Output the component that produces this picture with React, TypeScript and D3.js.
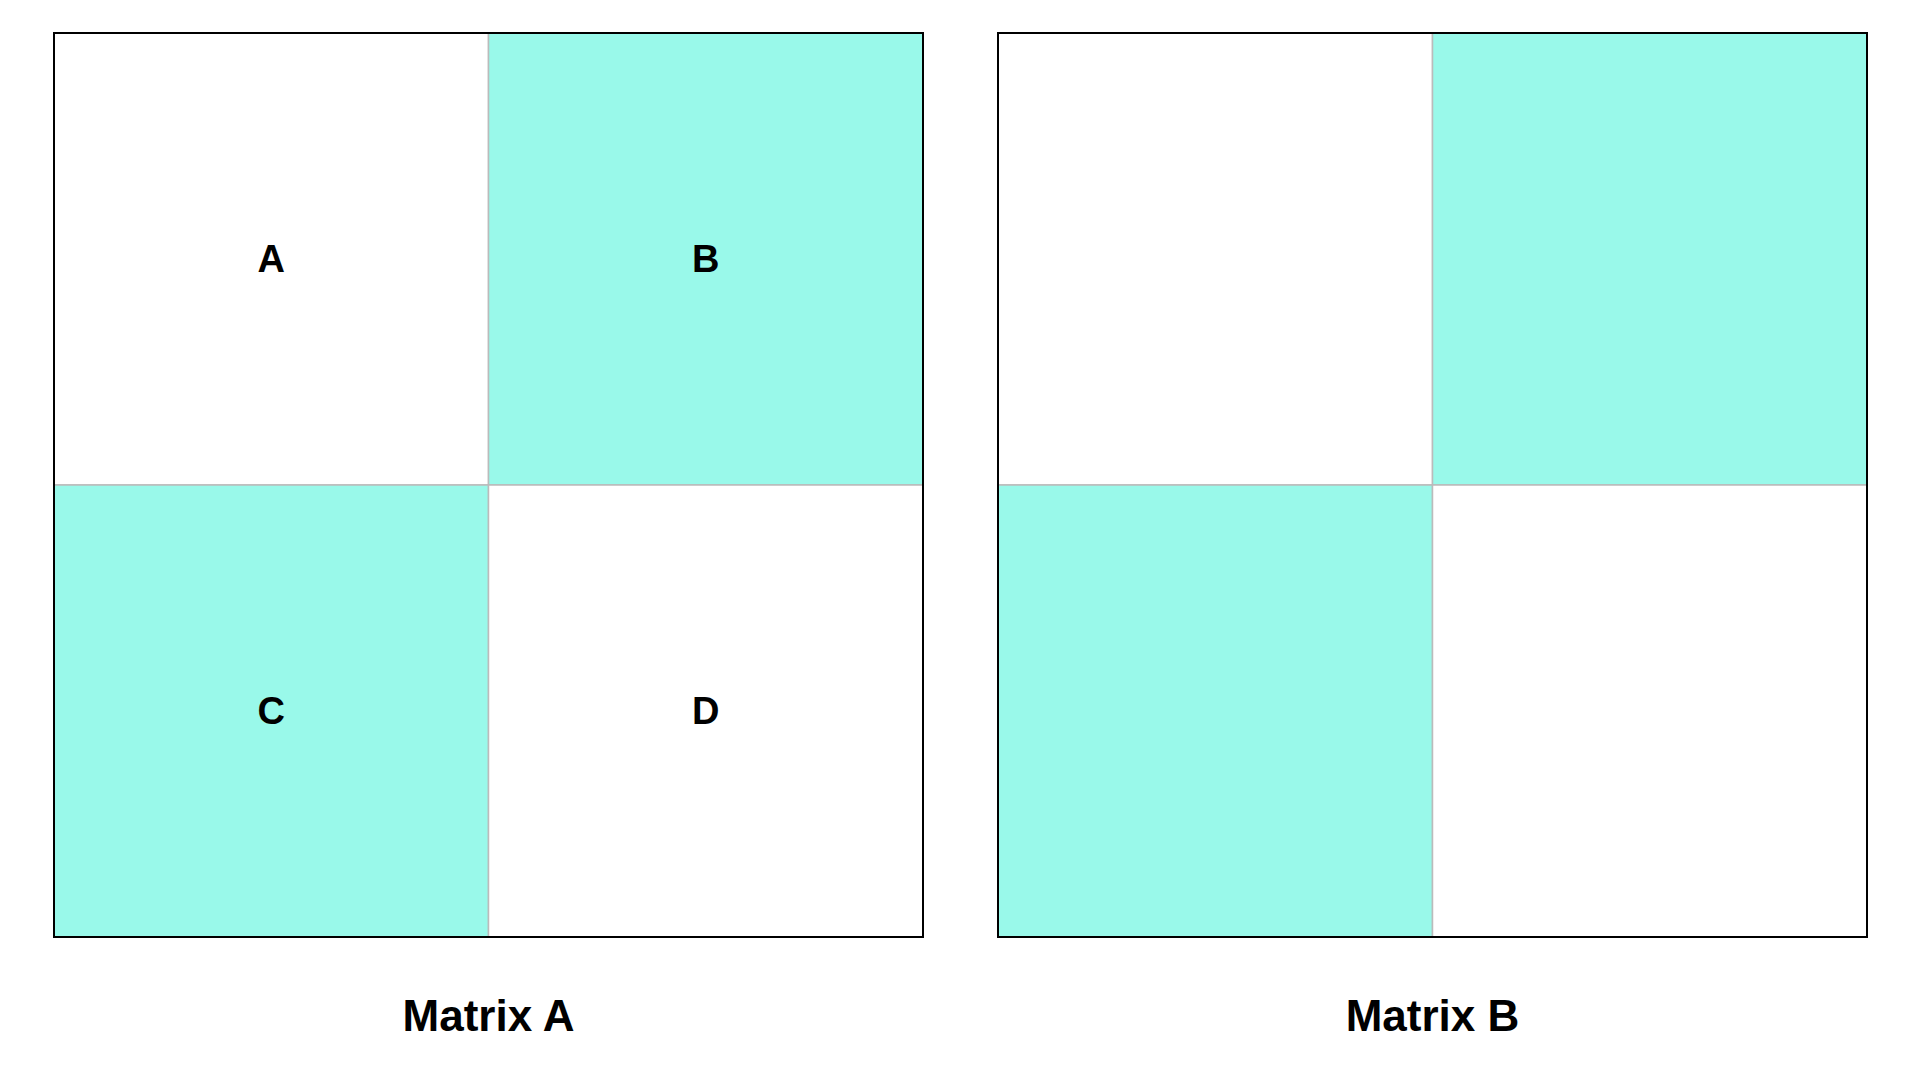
import React from "react";
import * as d3 from "d3";

const matrices = ["Matrix A", "Matrix B"];
const rows = [0, 1];
const cols = [0, 1];
const labelsA = [["A", "B"], ["C", "D"]];
const filled = [[false, true], [true, false]];

export default function App() {
  const W = 1918, H = 1070;
  const mx = d3.scaleOrdinal<string, number>().domain(matrices).range([54, 998]);
  const size = 869;
  const top = 33, hgt = 904;
  const x = d3.scaleBand<number>().domain(cols).range([0, size]);
  const y = d3.scaleBand<number>().domain(rows).range([0, hgt]);
  return (
    <svg width={W} height={H} style={{ position: "fixed", left: 0, top: 0, background: "#fff" }}
      fontFamily="Helvetica, Arial, 'Liberation Sans', sans-serif">
      {matrices.map((m, mi) => (
        <g key={m} transform={`translate(${mx(m)},${top})`}>
          {rows.map(r => cols.map(c => (
            <g key={`${r}${c}`}>
              <rect x={x(c)} y={y(r)} width={x.bandwidth()} height={y.bandwidth()}
                fill={filled[r][c] ? "#99f9ea" : "#fff"} stroke="#bbb" strokeWidth={1.5} />
              {mi === 0 && (
                <text x={x(c)! + x.bandwidth() / 2} y={y(r)! + y.bandwidth() / 2} textAnchor="middle"
                  dominantBaseline="central" fontWeight="bold" fontSize={38}>{labelsA[r][c]}</text>
              )}
            </g>
          )))}
          <rect x={0} y={0} width={size} height={hgt} fill="none" stroke="#000" strokeWidth={2} />
          <text x={size / 2} y={1015 - top} textAnchor="middle" dominantBaseline="central"
            fontWeight="bold" fontSize={44}>{m}</text>
        </g>
      ))}
    </svg>
  );
}
